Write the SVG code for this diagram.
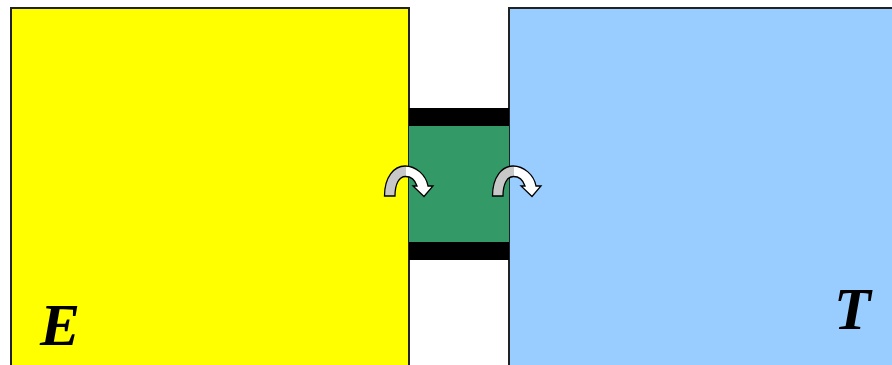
<svg xmlns="http://www.w3.org/2000/svg" width="892" height="365" viewBox="0 0 892 365">
<style>
.box{stroke:#222;stroke-width:2}
.lbl{font-family:"Liberation Serif","Times New Roman",serif;font-weight:bold;font-style:italic;font-size:60px;fill:#000}
.arr{fill:url(#g);stroke:#000;stroke-width:1.3;stroke-linejoin:miter}
</style>
<defs>
<linearGradient id="g" x1="0" y1="0" x2="1" y2="0">
<stop offset="0.45" stop-color="#c8c8c8"/>
<stop offset="0.45" stop-color="#ffffff"/>
</linearGradient>
<path id="curl" d="M384.5,196 C384.5,177 394,166 405,166 C416,166 426,175 428,186 L433,186 L424,196.5 L413,186 L417,186 C415,180 411,176.5 405.5,176.5 C399,176.5 395,184 395,196 Z"/>
</defs>
<g id="E">
<rect class="box" x="11" y="8" width="398" height="370" fill="#ffff00"/>
<text class="lbl" x="40" y="345">E</text>
</g>
<g id="T">
<rect class="box" x="509" y="8" width="400" height="370" fill="#99ccff"/>
<text class="lbl" x="834" y="329">T</text>
</g>
<g id="channel">
<rect x="409" y="108" width="100" height="18" fill="#000"/>
<rect x="409" y="126" width="100" height="116" fill="#339966"/>
<rect x="409" y="242" width="100" height="18" fill="#000"/>
</g>
<g id="connectors">
<use href="#curl" class="arr"/>
<use href="#curl" class="arr" transform="translate(108,0)"/>
</g>
</svg>
